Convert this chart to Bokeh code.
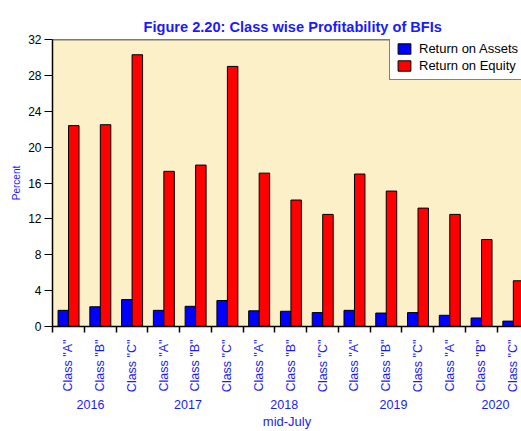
import math
from bokeh.plotting import figure
from bokeh.models import (Range1d, FixedTicker, Span, Legend, LegendItem,
                          LinearAxis, CustomJSTickFormatter)
from bokeh.embed import file_html
from bokeh.resources import INLINE

# ---- data ----
years = ["2016", "2017", "2018", "2019", "2020"]
classes = ['Class "A"', 'Class "B"', 'Class "C"']
roa = [1.8, 2.2, 3.0, 1.8, 2.25, 2.9, 1.75, 1.7, 1.55, 1.8, 1.5, 1.55, 1.25, 0.95, 0.6]
roe = [22.4, 22.5, 30.3, 17.3, 18.0, 29.0, 17.1, 14.1, 12.5, 17.0, 15.1, 13.2, 12.5, 9.7, 5.1]
y_ticks = [0, 4, 8, 12, 16, 20, 24, 28, 32]
series_names = ["Return on Assets", "Return on Equity"]
title_text = "Figure 2.20: Class wise Profitability of BFIs"
y_title = "Percent"
x_title = "mid-July"

# ---- layout (pixels) ----
W, H = 521, 431
BL, BT, BB = 52, 39, 105
CAT_PX = 31.77
frame_w = W - BL
x_end = frame_w / CAT_PX

BLUE_TXT = "#1a1aff"
FONT = "Liberation Sans"

p = figure(width=W, height=H, output_backend="svg", toolbar_location=None,
           x_range=Range1d(0, x_end), y_range=Range1d(0, 32),
           min_border_left=BL, min_border_top=BT, min_border_bottom=BB,
           min_border_right=0, x_axis_location=None)
p.background_fill_color = "#FBF0C8"
p.border_fill_color = "white"
p.outline_line_color = None
p.xgrid.visible = False
p.ygrid.visible = False

p.title.text = title_text
p.title.text_font = FONT
p.title.text_font_size = "14.6px"
p.title.text_font_style = "bold"
p.title.text_color = BLUE_TXT
p.title.align = "left"
p.title.offset = 91
p.title.standoff = 10

n = len(roa)
idx = list(range(n))
r1 = p.vbar(x=[i + 0.34 for i in idx], top=roa, width=0.33,
            fill_color="#0000FF", line_color="black", line_width=1)
r2 = p.vbar(x=[i + 0.67 for i in idx], top=roe, width=0.33,
            fill_color="#FF0000", line_color="black", line_width=1)

# top border of plot area
p.add_layout(Span(location=32, dimension="width", line_color="black", line_width=1.5))

# category axis: labels at category centres, ticks (minor) at boundaries
cat_labels = [classes[i % 3] for i in idx]
xa = LinearAxis(
    ticker=FixedTicker(ticks=[i + 0.5 for i in idx], minor_ticks=list(range(n + 1))),
    formatter=CustomJSTickFormatter(args=dict(labels=cat_labels), code="return labels[index];"))
xa.major_tick_line_color = None
xa.major_tick_out = 0
xa.major_tick_in = 0
xa.minor_tick_out = 6
xa.minor_tick_in = 0
xa.minor_tick_line_color = "black"
xa.minor_tick_line_width = 1.5
xa.axis_line_width = 1.5
xa.major_label_orientation = math.pi / 2
xa.major_label_standoff = 7
xa.major_label_text_font = FONT
xa.major_label_text_font_size = "12.5px"
xa.major_label_text_color = BLUE_TXT
p.add_layout(xa, "below")

# year axis
year_px = [90, 187.5, 283.7, 393, 495]
year_pos = [(xp - BL) / CAT_PX for xp in year_px]
ya2 = LinearAxis(ticker=FixedTicker(ticks=year_pos),
                 formatter=CustomJSTickFormatter(args=dict(labels=years), code="return labels[index];"))
ya2.axis_line_color = None
ya2.major_tick_line_color = None
ya2.major_tick_out = 0
ya2.major_tick_in = 0
ya2.minor_tick_line_color = None
ya2.major_label_standoff = 4
ya2.major_label_text_font = FONT
ya2.major_label_text_font_size = "12.5px"
ya2.major_label_text_color = BLUE_TXT
ya2.axis_label = x_title
ya2.axis_label_standoff = 2
ya2.axis_label_text_font = FONT
ya2.axis_label_text_font_size = "13px"
ya2.axis_label_text_font_style = "normal"
ya2.axis_label_text_color = BLUE_TXT
p.add_layout(ya2, "below")

ya = p.yaxis[0]
ya.ticker = FixedTicker(ticks=y_ticks)
ya.major_tick_out = 8
ya.major_tick_in = 0
ya.minor_tick_line_color = None
ya.axis_line_width = 1.5
ya.major_tick_line_width = 1
ya.major_label_standoff = 3
ya.major_label_text_font = FONT
ya.major_label_text_font_size = "12px"
ya.major_label_text_color = "black"
ya.axis_label = y_title
ya.axis_label_standoff = 3
ya.axis_label_text_font = FONT
ya.axis_label_text_font_size = "10px"
ya.axis_label_text_font_style = "normal"
ya.axis_label_text_color = BLUE_TXT

legend = Legend(items=[LegendItem(label=series_names[0], renderers=[r1]),
                       LegendItem(label=series_names[1], renderers=[r2])],
                location=(337, 246))
legend.padding = 6
legend.spacing = 2
legend.margin = 0
legend.glyph_width = 16
legend.glyph_height = 13
legend.label_height = 13
legend.label_standoff = 7
legend.label_text_font = FONT
legend.label_text_font_size = "13px"
legend.label_text_color = "black"
legend.border_line_color = "black"
legend.border_line_width = 1
legend.background_fill_color = "white"
legend.background_fill_alpha = 1
p.add_layout(legend)

open("out.html", "w").write(file_html(p, INLINE))
